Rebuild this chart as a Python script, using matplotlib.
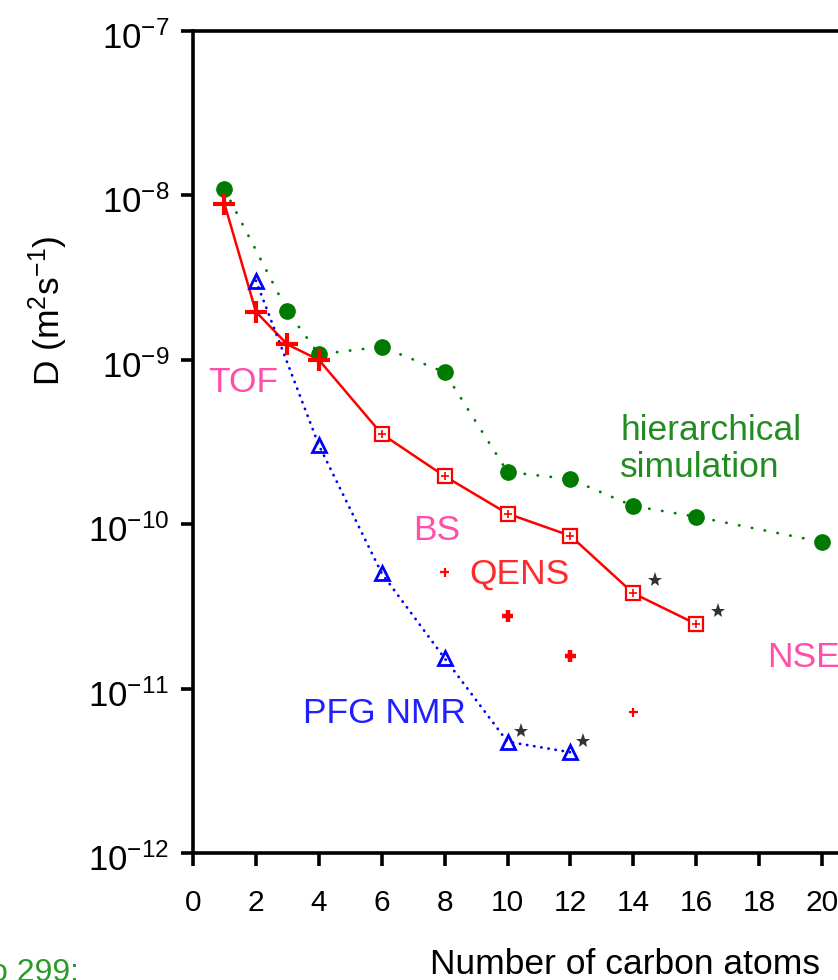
import numpy as np
import matplotlib
matplotlib.use("Agg")
import matplotlib.pyplot as plt
from matplotlib.ticker import FixedLocator, FuncFormatter, NullLocator
from matplotlib.transforms import offset_copy, ScaledTranslation

plt.rcParams['font.family'] = ['Liberation Sans', 'DejaVu Sans']
plt.rcParams['mathtext.fontset'] = 'custom'
plt.rcParams['mathtext.rm'] = 'Liberation Sans'
plt.rcParams['mathtext.it'] = 'Liberation Sans:italic'
plt.rcParams['mathtext.bf'] = 'Liberation Sans:bold'

# Diffusivity D (m^2 s^-1) versus number of carbon atoms
sim_n = [1, 3, 4, 6, 8, 10, 12, 14, 16, 20]
sim_D = [1.09e-8, 1.98e-9, 1.08e-9, 1.20e-9, 8.4e-10, 2.08e-10, 1.88e-10,
         1.29e-10, 1.11e-10, 7.8e-11]

tof_n = [1, 2, 3, 4]
tof_D = [8.9e-9, 1.96e-9, 1.24e-9, 1.0e-9]

bs_n = [6, 8, 10, 12, 14, 16]
bs_D = [3.54e-10, 1.96e-10, 1.16e-10, 8.5e-11, 3.8e-11, 2.47e-11]

qens_n = [8, 10, 12, 14]
qens_D = [5.1e-11, 2.77e-11, 1.58e-11, 7.2e-12]

nmr_n = [2, 4, 6, 8, 10, 12]
nmr_D = [3.03e-9, 3.03e-10, 5.03e-11, 1.53e-11, 4.75e-12, 4.1e-12]

# points flagged with an asterisk
bs_starred = [14, 16]
nmr_starred = [10, 12]

x_ticks = list(range(0, 21, 2))
y_ticks = [1e-12, 1e-11, 1e-10, 1e-9, 1e-8, 1e-7]

W, H = 838, 980
fig = plt.figure(figsize=(W / 100, H / 100), dpi=100)
left_px, top_px, bottom_px = 193, 31, 853
px_per_unit = 31.45
xmax = 22
ax = fig.add_axes([left_px / W, 1 - bottom_px / H,
                   xmax * px_per_unit / W, (bottom_px - top_px) / H])

ax.set_yscale('log')
ax.set_xlim(0, xmax)
ax.set_ylim(1e-12, 1e-7)

GREEN = '#007a00'
RED = '#ff0000'
BLUE = '#0000ff'
PINK = '#ff4fa7'

# hierarchical simulation
ax.plot(sim_n, sim_D, color=GREEN, lw=2.0, linestyle=(0, (0.1, 4.6)),
        dash_capstyle='round', marker='o', ms=11, mfc=GREEN, mec=GREEN,
        clip_on=False, zorder=3)

# TOF + BS joined by a solid line
ax.plot(tof_n + bs_n, tof_D + bs_D, color=RED, lw=1.8, zorder=2)
ax.plot(tof_n, tof_D, linestyle='none', marker='+', ms=16, mew=3,
        color=RED, zorder=4)
ax.plot(bs_n, bs_D, linestyle='none', marker='s', ms=10, mfc='white',
        mec=RED, mew=1.6, zorder=4)
ax.plot(bs_n, bs_D, linestyle='none', marker='+', ms=6, mew=1.2,
        color=RED, zorder=5)

# QENS
qens_size = [42, 70, 70, 42]
qens_width = [1.6, 3.2, 3.2, 1.6]
ax.scatter(qens_n, qens_D, marker='+', s=qens_size, linewidths=qens_width,
           color=RED, zorder=4)

# PFG NMR
ax.plot(nmr_n, nmr_D, color=BLUE, lw=2.0, linestyle=(0, (0.1, 2.5)),
        dash_capstyle='round', marker='^', ms=10, mfc='none', mec=BLUE,
        mew=2.0, zorder=3)

# asterisks next to flagged points
bs_lookup = dict(zip(bs_n, bs_D))
nmr_lookup = dict(zip(nmr_n, nmr_D))
star_bs = offset_copy(ax.transData, fig=fig, x=22, y=13, units='dots')
star_nmr = offset_copy(ax.transData, fig=fig, x=13, y=11, units='dots')
ax.plot(bs_starred, [bs_lookup[n] for n in bs_starred], linestyle='none',
        marker='*', ms=11, color='#333333', mew=0, transform=star_bs)
ax.plot(nmr_starred, [nmr_lookup[n] for n in nmr_starred], linestyle='none',
        marker='*', ms=11, color='#333333', mew=0, transform=star_nmr)

# series labels
lab_fs = 25.5
ax.text(0.48, 6.4e-10, 'TOF', color=PINK, fontsize=lab_fs, va='baseline')
ax.text(7.0, 8.0e-11, 'BS', color=PINK, fontsize=lab_fs, va='baseline')
ax.text(8.78, 4.33e-11, 'QENS', color='#ff2a2a', fontsize=lab_fs, va='baseline')
ax.text(3.5, 6.18e-12, 'PFG NMR', color='#1f1fff', fontsize=lab_fs, va='baseline')
ax.text(13.58, 3.25e-10, 'hierarchical', color='#228b22', fontsize=lab_fs,
        va='baseline')
ax.text(13.58, 1.94e-10, 'simulation', color='#228b22', fontsize=lab_fs,
        va='baseline')
ax.text(18.25, 1.35e-11, 'NSE', color=PINK, fontsize=lab_fs, va='baseline')

# axes styling
for side in ('top', 'left', 'bottom', 'right'):
    ax.spines[side].set_linewidth(2.6)
    ax.spines[side].set_color('black')

ax.xaxis.set_major_locator(FixedLocator(x_ticks))
ax.xaxis.set_minor_locator(NullLocator())
ax.yaxis.set_major_locator(FixedLocator(y_ticks))
ax.yaxis.set_minor_locator(NullLocator())
ax.yaxis.set_major_formatter(
    FuncFormatter(lambda v, p: r'$10^{%d}$' % int(round(np.log10(v)))))
ax.tick_params(axis='both', direction='out', length=9, width=2.6,
               color='black')
ax.tick_params(axis='y', labelsize=25, pad=8)
ax.tick_params(axis='x', labelsize=21.5, pad=17)

shift_down = ScaledTranslation(0, -4 / 100, fig.dpi_scale_trans)
for lbl in ax.get_yticklabels():
    lbl.set_transform(lbl.get_transform() + shift_down)

fig.text(48 / W, 1 - 311 / H, r'D (m$^{2}$s$^{-1}$)', rotation=90,
         ha='center', va='center', fontsize=25.5)
fig.text(430 / W, 1 - 974 / H, 'Number of carbon atoms', ha='left',
         va='baseline', fontsize=25.5)
fig.text(-0.012, 1 - 958 / H, 'o 299:', ha='left', va='top',
         fontsize=23, color='#2a9a2a')

fig.savefig('out.png', dpi=100)
